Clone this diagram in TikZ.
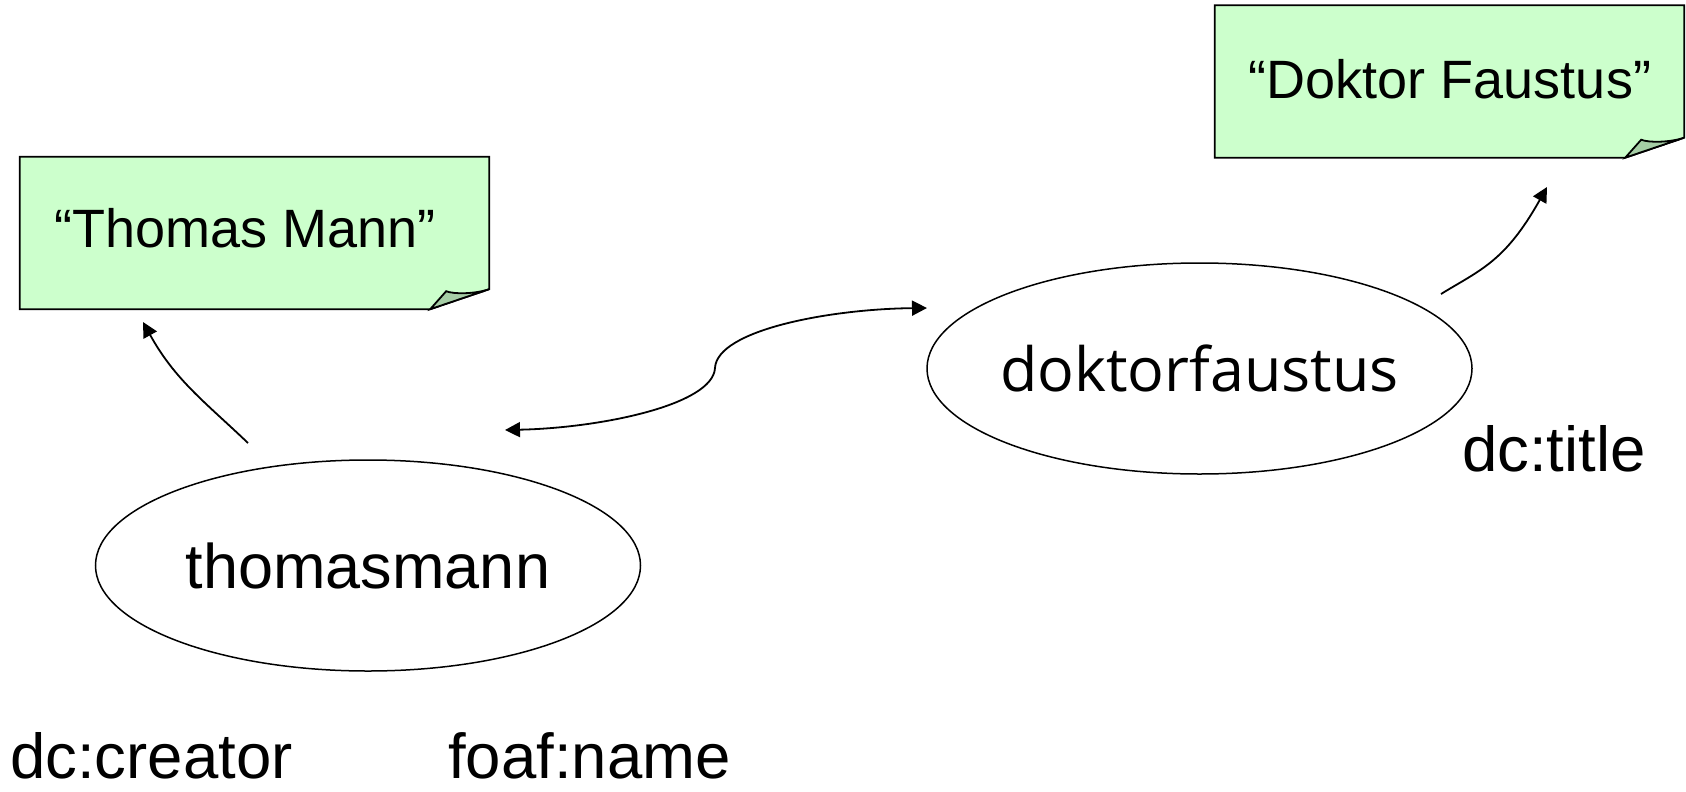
\documentclass[tikz,border=0pt]{standalone}
\usepackage{fontspec}
\setmainfont{Liberation Sans}
\newfontfamily\ellfont{Open Sans}
\usetikzlibrary{shapes.geometric,arrows.meta,calc}
\definecolor{notegreen}{RGB}{204,255,204}
\definecolor{foldgreen}{RGB}{166,206,166}
\begin{document}
\begin{tikzpicture}[x=1pt,y=-1pt,
  resnode/.style={ellipse,draw,line width=1.5pt,minimum width=545pt,minimum height=211pt,inner sep=0pt},
  notebox/.style={minimum width=469pt,minimum height=152pt,inner sep=0pt},
  noteline/.style={line width=1.8pt,line join=miter},
  notetext/.style={anchor=base,inner sep=0pt,font=\fontsize{54}{62}\selectfont},
  proplabel/.style={anchor=base west,inner sep=0pt,font=\fontsize{63.5}{72}\selectfont},
  edge/.style={line width=1.8pt,-{Triangle[length=15pt,width=15pt]}},
  dedge/.style={line width=1.8pt,{Triangle[length=15pt,width=15pt]}-{Triangle[length=15pt,width=15pt]}}]
\useasboundingbox (0,0) rectangle (1686,792);

% literal notes
\node[notebox] (tmbox) at (254.5,233) {};
\filldraw[fill=notegreen,noteline] (tmbox.north west) -- (tmbox.north east) -- ($(tmbox.south east)+(0,-20)$) -- ($(tmbox.south east)+(-59,0)$) -- (tmbox.south west) -- cycle;
\filldraw[fill=foldgreen,noteline] ($(tmbox.south east)+(-59,0)$) -- ($(tmbox.south east)+(-43,-18)$) .. controls ($(tmbox.south east)+(-36,-15)$) and ($(tmbox.south east)+(-15,-15)$) .. ($(tmbox.south east)+(0,-20)$) -- cycle;
\node[notetext] (tmtext) at (245,247) {“Thomas Mann”};

\node[notebox] (dfbox) at (1449.5,81.5) {};
\filldraw[fill=notegreen,noteline] (dfbox.north west) -- (dfbox.north east) -- ($(dfbox.south east)+(0,-20)$) -- ($(dfbox.south east)+(-59,0)$) -- (dfbox.south west) -- cycle;
\filldraw[fill=foldgreen,noteline] ($(dfbox.south east)+(-59,0)$) -- ($(dfbox.south east)+(-43,-18)$) .. controls ($(dfbox.south east)+(-36,-15)$) and ($(dfbox.south east)+(-15,-15)$) .. ($(dfbox.south east)+(0,-20)$) -- cycle;
\node[notetext] (dftext) at (1450,98) {“Doktor Faustus”};

% resources
\node[resnode,font=\fontsize{63}{72}\selectfont] (tm) at (368,565.5) {\makebox[0pt][c]{thomasmann}};
\node[resnode,font=\ellfont\fontsize{61}{72}\selectfont] (df) at (1199.5,368.5) {\makebox[0pt][c]{doktorfaustus}};

% property labels
\node[proplabel] (title) at (1462,471) {dc:title};
\node[proplabel] (creator) at (10,778) {dc:creator};
\node[proplabel] (fname) at (448,778) {foaf:name};

% connectors
\coordinate (tmstart) at (248,443);
\coordinate (tmtip) at (143,322);
\draw[edge] (tmstart) .. controls (205,402) and (175,380) .. (tmtip);

\coordinate (dfstart) at (1441,294);
\coordinate (dftip) at (1547,187);
\draw[edge] (dfstart) .. controls (1480,270) and (1505,262) .. (dftip);

\coordinate (dl) at (505,430);
\coordinate (dmid) at (715,368);
\coordinate (dr) at (927,308);
\draw[dedge] (dl) .. controls (600,428) and (713,405) .. (dmid) .. controls (717,330) and (830,309) .. (dr);
\end{tikzpicture}
\end{document}
